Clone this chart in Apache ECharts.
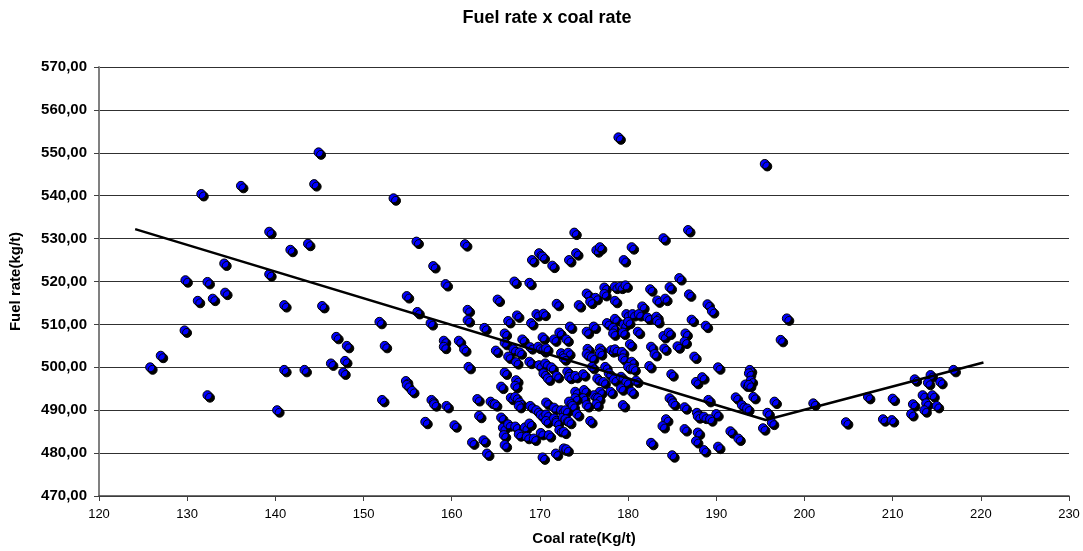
<!DOCTYPE html>
<html>
<head>
<meta charset="utf-8">
<script src="https://cdn.jsdelivr.net/npm/echarts@6/dist/echarts.min.js"></script>
<style>
html,body{margin:0;padding:0;background:#fff;}
#chart{width:1083px;height:551px;}
</style>
</head>
<body>
<div id="chart"></div>
<script>
var coalRate = [
131.6,136.1,144.9,144.4,153.4,178.9,
139.3,141.7,143.7,134.2,139.3,129.8,132.3,131.2,132.9,134.3,141.0,145.3,151.8,129.7,146.9,148.1,152.4,127.0,125.8,141.0,143.3,146.3,147.9,147.7,132.3,140.2,152.1,
156.0,161.5,157.9,159.3,154.9,156.1,157.6,161.8,161.8,163.7,165.2,167.1,168.8,169.1,169.9,170.3,171.4,171.9,166.4,167.4,169.0,169.6,170.4,
173.9,186.8,184.0,174.1,173.3,176.4,176.8,180.4,179.5,185.8,182.5,184.7,186.9,177.3,178.5,179.1,179.7,175.3,177.3,176.3,175.7,178.5,174.4,183.3,184.2,181.6,179.8,180.5,181.2,182.2,183.2,183.3,187.2,178.5,177.6,179.5,178.3,180.0,173.4,176.1,
159.1,159.1,160.8,161.4,161.9,154.8,154.9,155.5,157.7,158.0,159.4,157.0,160.3,162.9,163.1,164.4,164.9,162.3,163.6,164.0,165.0,166.0,166.0,168.0,170.3,171.6,172.2,167.0,167.7,168.9,169.8,170.4,170.7,166.4,167.3,168.8,169.9,170.6,171.3,170.4,170.9,171.9,172.4,166.0,167.3,167.2,165.6,166.7,167.2,167.7,167.6,168.9,169.6,170.7,171.6,172.4,170.1,170.7,170.7,171.6,171.9,172.6,172.2,165.6,165.8,166.4,167.2,168.3,168.8,165.9,167.6,168.5,169.3,170.1,171.0,166.0,170.3,171.8,172.7,
173.0,175.3,178.3,179.4,181.1,184.0,184.6,186.5,186.4,185.6,184.1,182.6,183.0,180.2,173.2,175.4,175.3,175.9,176.8,176.8,178.1,178.5,179.3,179.4,180.4,180.0,180.6,182.4,187.5,184.9,187.7,188.4,172.7,173.1,173.3,174.0,174.9,175.9,176.5,177.2,177.4,177.8,178.4,179.2,179.8,180.9,179.2,180.4,178.0,176.8,176.1,174.0,175.0,174.9,176.6,176.4,174.0,173.3,173.7,175.3,172.9,174.2,172.9,173.3,175.7,179.4,172.7,173.0,184.7,185.1,186.4,187.8,187.9,188.6,182.6,185.0,184.3,183.9,186.4,187.9,187.7,
195.5,189.0,189.5,188.8,198.0,197.3,190.2,193.8,193.7,193.9,193.3,193.7,194.2,189.1,192.2,192.9,193.5,196.6,195.8,196.3,195.3,190.0,189.3,191.6,192.5,190.2,188.6,201.0,204.7,207.2,210.0,208.9,209.9,212.5,214.3,214.0,215.4,216.9,213.4,214.5,212.3,213.8,215.0,213.6,212.1
];
var fuelRate = [
540.4,542.3,550.1,542.7,539.4,553.6,
531.6,527.4,528.8,524.2,521.7,520.3,519.9,515.5,516.0,517.4,514.5,514.3,510.6,508.6,507.1,505.0,505.0,502.7,500.0,499.4,499.4,500.9,501.5,498.8,493.5,490.0,492.4,
529.3,528.7,523.6,519.4,516.6,512.9,510.3,513.4,511.0,509.2,515.8,520.0,519.7,525.0,526.6,525.8,523.7,514.8,510.8,512.1,510.3,512.4,512.5,
531.4,532.0,530.1,526.6,525.0,527.3,528.0,528.0,525.0,520.8,518.2,518.7,517.0,518.6,518.8,518.8,519.1,517.2,517.1,516.2,515.3,515.5,514.5,515.6,516.0,514.2,512.4,512.4,512.4,511.6,511.8,510.8,511.1,511.3,510.3,510.0,509.2,510.6,509.5,509.5,
506.2,504.8,506.2,504.2,500.1,496.8,495.9,494.5,492.4,491.4,491.0,487.3,486.5,492.6,488.7,492.0,491.4,482.5,483.0,479.9,503.9,507.9,505.7,506.5,507.0,506.5,508.1,504.2,503.5,504.7,504.8,504.0,504.4,502.5,501.2,501.3,500.5,500.9,500.0,498.6,497.4,498.0,503.3,498.8,497.0,495.7,495.5,492.9,493.1,491.8,491.0,491.0,490.0,491.8,490.6,490.0,488.9,489.0,487.5,488.1,487.1,488.3,485.4,488.3,485.9,486.7,486.2,486.0,486.9,484.2,484.4,483.8,483.4,484.7,484.2,481.9,479.0,479.9,481.1,
506.5,508.3,507.9,508.1,508.3,507.3,508.1,507.9,506.0,504.9,504.4,504.8,503.1,505.4,503.4,504.3,503.1,502.3,504.4,503.3,504.0,504.2,503.6,502.1,501.3,500.1,499.7,500.3,502.5,498.4,496.6,497.7,502.1,499.0,497.8,498.0,498.4,500.1,497.4,496.6,500.1,498.6,497.2,497.8,496.6,496.9,495.1,494.3,494.3,494.3,493.5,494.3,494.7,492.8,492.8,491.4,492.8,492.0,491.0,491.2,490.0,489.1,487.9,487.3,487.5,491.2,485.0,480.9,492.8,491.6,490.7,489.4,488.6,488.5,482.4,479.5,487.9,486.3,485.6,484.8,482.8,
547.4,514.7,513.1,509.7,511.4,506.4,500.0,499.4,498.6,496.9,496.0,495.9,493.1,492.4,493.0,491.2,490.4,492.0,489.4,487.1,485.8,489.1,487.9,485.1,483.4,481.5,480.7,491.6,487.2,493.1,492.7,487.9,487.7,497.2,498.2,496.4,496.6,499.4,493.5,493.5,491.4,491.6,491.0,490.0,489.1
];
var trendX = [124.1, 195.6, 220.3];
var trendY = [532.2, 487.7, 501.1];

var scatterData = coalRate.map(function (x, i) { return [x, fuelRate[i]]; });
var trendData = trendX.map(function (x, i) { return [x, trendY[i]]; });

var chart = echarts.init(document.getElementById('chart'), null, {renderer: 'canvas'});
var font = '"Liberation Sans", Arial, sans-serif';
chart.setOption({
  animation: false,
  backgroundColor: '#ffffff',
  title: {
    text: 'Fuel rate x coal rate',
    left: 542, top: 4, textAlign: 'center',
    textStyle: {fontFamily: font, fontSize: 18, fontWeight: 'bold', color: '#000'}
  },
  grid: {left: 92, right: 14, top: 67, bottom: 55, containLabel: false},
  xAxis: {
    type: 'value', min: 120, max: 230, interval: 10,
    name: 'Coal rate(Kg/t)', nameLocation: 'middle', nameGap: 35,
    nameTextStyle: {fontFamily: font, fontSize: 15, fontWeight: 'bold', color: '#000'},
    axisLine: {show: true, onZero: false, lineStyle: {color: '#404040', width: 1.5}},
    axisTick: {show: true, inside: false, length: 5, lineStyle: {color: '#404040', width: 1}},
    axisLabel: {fontFamily: font, fontSize: 13, color: '#000', margin: 12},
    splitLine: {show: false}
  },
  yAxis: {
    type: 'value', min: 470, max: 570, interval: 10,
    name: 'Fuel rate(kg/t)', nameLocation: 'middle', nameGap: 76, nameRotate: 90,
    nameTextStyle: {fontFamily: font, fontSize: 15, fontWeight: 'bold', color: '#000'},
    axisLine: {show: true, lineStyle: {color: '#808080', width: 2}},
    axisTick: {show: true, inside: false, length: 5, lineStyle: {color: '#404040', width: 1}},
    axisLabel: {fontFamily: font, fontSize: 15, fontWeight: 'bold', color: '#000', margin: 12,
      formatter: function (v) { return v.toFixed(2).replace('.', ','); }},
    splitLine: {show: true, lineStyle: {color: '#303030', width: 1}}
  },
  series: [
    {
      type: 'scatter',
      data: scatterData,
      symbol: 'circle',
      symbolSize: 9,
      itemStyle: {color: '#0000ff', borderColor: '#000', borderWidth: 1,
        shadowColor: '#000', shadowBlur: 0, shadowOffsetX: 2.5, shadowOffsetY: 2.5, opacity: 1},
      emphasis: {disabled: true},
      z: 3
    },
    {
      type: 'line',
      data: trendData,
      symbol: 'none',
      lineStyle: {color: '#000', width: 2.5},
      emphasis: {disabled: true},
      z: 4
    }
  ]
});
</script>
</body>
</html>
